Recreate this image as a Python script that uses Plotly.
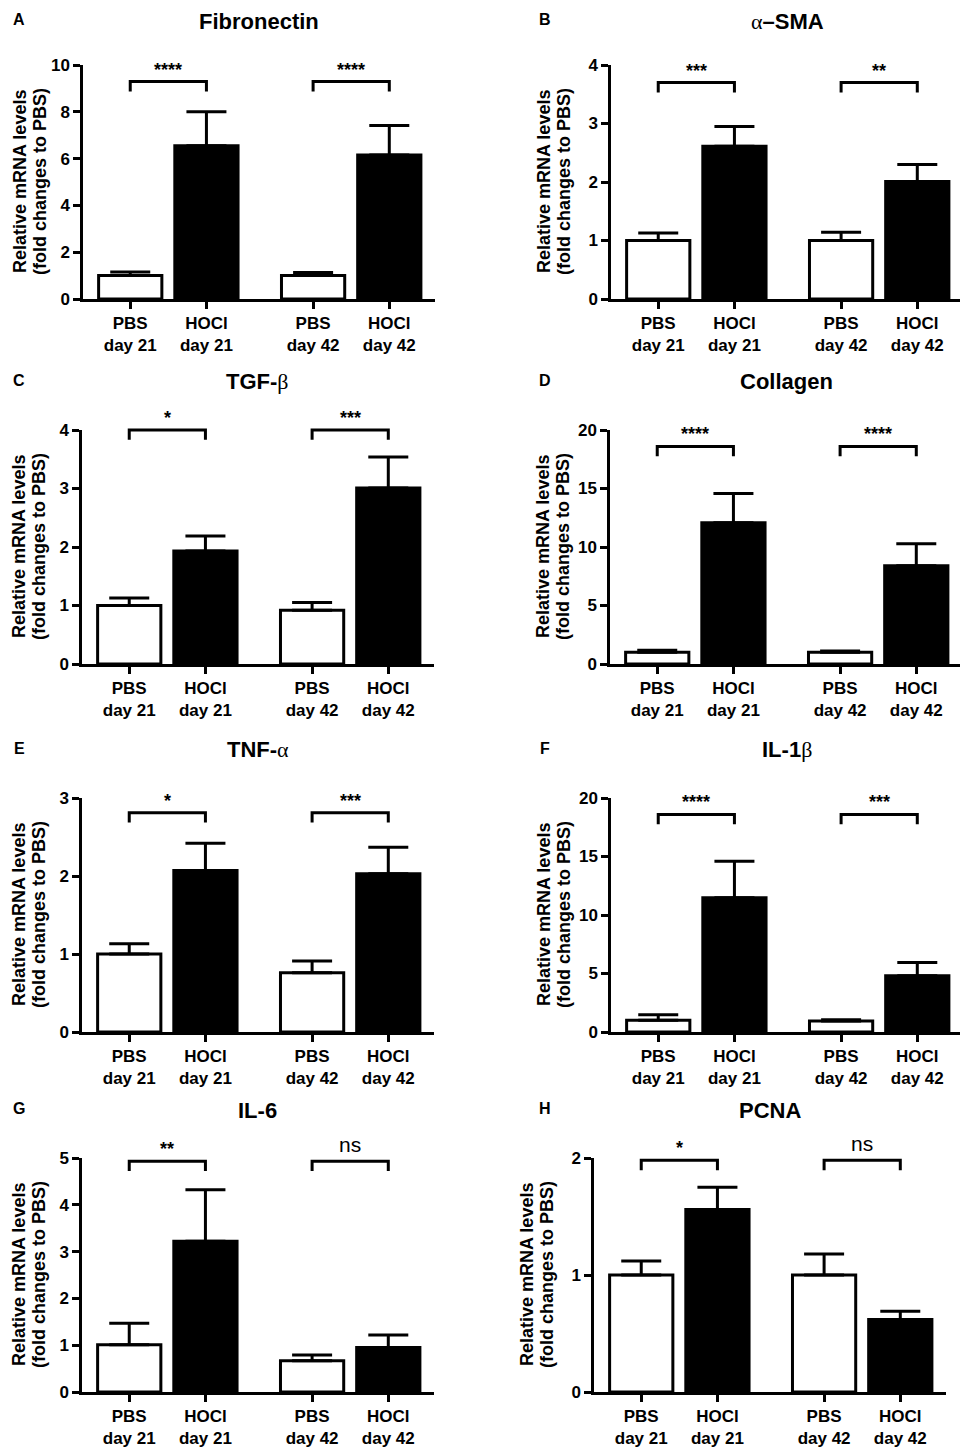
#!/usr/bin/env python3
"""
mRNA levels after HOCl exposure: 8-panel bar chart (A-H), Prism style
"""

import plotly.graph_objects as go

# ---- data ---------------------------------------------------------------
panel_letters = ["A", "B", "C", "D", "E", "F", "G", "H"]
genes = ["Fibronectin", "α–SMA", "TGF-β", "Collagen", "TNF-α", "IL-1β", "IL-6", "PCNA"]
groups = ["PBS<br>day 21", "HOCl<br>day 21", "PBS<br>day 42", "HOCl<br>day 42"]

fibronectin_mean = [1.0, 6.55, 1.0, 6.15]
fibronectin_sem = [0.15, 1.45, 0.13, 1.26]
sma_mean = [1.0, 2.61, 1.0, 2.01]
sma_sem = [0.13, 0.34, 0.14, 0.29]
tgfb_mean = [1.0, 1.93, 0.92, 3.01]
tgfb_sem = [0.13, 0.26, 0.13, 0.53]
collagen_mean = [1.0, 12.08, 1.0, 8.4]
collagen_sem = [0.17, 2.5, 0.11, 1.88]
tnfa_mean = [1.0, 2.07, 0.76, 2.03]
tnfa_sem = [0.13, 0.35, 0.15, 0.34]
il1b_mean = [1.0, 11.47, 0.94, 4.81]
il1b_sem = [0.48, 3.13, 0.11, 1.14]
il6_mean = [1.01, 3.22, 0.67, 0.95]
il6_sem = [0.46, 1.1, 0.12, 0.27]
pcna_mean = [1.0, 1.56, 1.0, 0.62]
pcna_sem = [0.12, 0.19, 0.18, 0.07]

sig_day21 = ["****", "***", "*", "****", "*", "****", "**", "*"]
sig_day42 = ["****", "**", "***", "****", "***", "***", "ns", "ns"]

y_max = [10, 4, 4, 20, 3, 20, 5, 2]
y_step = [2, 1, 1, 5, 1, 5, 1, 1]

means = [fibronectin_mean, sma_mean, tgfb_mean, collagen_mean,
         tnfa_mean, il1b_mean, il6_mean, pcna_mean]
sems = [fibronectin_sem, sma_sem, tgfb_sem, collagen_sem,
        tnfa_sem, il1b_sem, il6_sem, pcna_sem]

# ---- layout (pixels in the 968x1450 window) ------------------------------
W, H = 968, 1450
OFF = 8  # page body margin: the figure starts 8px in from the window corner
axis_left = [83, 611, 82, 610, 82, 611, 82, 594]
row_bottom = [299, 664, 1032, 1392]
plot_w, plot_h = 352, 234
bracket_frac = [0.929, 0.925, 1.0, 0.93, 0.937, 0.93, 0.986, 0.99]
leg = 0.042
# y-title line offsets from the axis (left column squeezed to stay on page)
ytitle_offsets = [(-63, -43), (-67, -47)]

# bar centres: two groups of two, wider gap between groups
positions = [0, 1, 2.4, 3.4]
x_range = [-0.62, 4.0]

FONT = "Liberation Sans, Arial, sans-serif"
BLACK = "#000000"

fig = go.Figure()
annotations = []
shapes = []
layout_axes = {}


def px_x(px):
    return (px - OFF) / W


def px_y(py):
    return 1 - (py - OFF) / H


def greek(text):
    """Render greek letters in a plain serif, like the original figure"""
    out = ""
    for ch in text:
        if ch in "αβ":
            out += f"<span style='font-family:Liberation Serif, serif;font-weight:normal'>{ch}</span>"
        else:
            out += ch
    return out


def paper_note(text, px, py, size, **kw):
    """Annotation placed by window pixel coordinates"""
    d = dict(text=text, xref="paper", yref="paper", x=px_x(px), y=px_y(py),
             xanchor="center", yanchor="middle", showarrow=False,
             font=dict(family=FONT, size=size, color=BLACK))
    d.update(kw)
    return d


for i in range(8):
    n = i + 1
    xa = "x" if n == 1 else f"x{n}"
    ya = "y" if n == 1 else f"y{n}"
    row = i // 2
    x0 = px_x(axis_left[i])
    x1 = px_x(axis_left[i] + plot_w)
    yb = px_y(row_bottom[row])
    yt = px_y(row_bottom[row] - plot_h)

    fig.add_trace(
        go.Bar(
            x=positions,
            y=means[i],
            width=0.83,
            xaxis=xa,
            yaxis=ya,
            marker=dict(
                color=["white", BLACK, "white", BLACK],
                line=dict(color=BLACK, width=3),
            ),
            error_y=dict(
                type="data",
                symmetric=False,
                array=sems[i],
                arrayminus=[0] * 4,
                color=BLACK,
                thickness=3,
                width=20,
            ),
            showlegend=False,
            cliponaxis=False,
        )
    )

    axis_style = dict(
        ticks="outside",
        ticklen=7,
        tickwidth=2.5,
        tickcolor=BLACK,
        showline=True,
        linewidth=2.5,
        linecolor=BLACK,
        showgrid=False,
        zeroline=False,
        automargin=False,
        tickfont=dict(family=FONT, size=17, color=BLACK, weight="bold"),
    )
    layout_axes["xaxis" if n == 1 else f"xaxis{n}"] = dict(
        domain=[x0, x1],
        anchor=ya,
        range=x_range,
        tickvals=positions,
        ticktext=groups,
        **axis_style,
    )
    layout_axes["yaxis" if n == 1 else f"yaxis{n}"] = dict(
        domain=[yb, yt],
        anchor=xa,
        range=[0, y_max[i]],
        dtick=y_step[i],
        tick0=0,
        **axis_style,
    )

    # panel letter and gene title (top row nudged down to stay inside the page)
    col_letter_x = 19 if i % 2 == 0 else 545
    title_y = max(row_bottom[row] - plot_h - 48, 22)
    letter_y = max(title_y - 2, 20)
    annotations.append(paper_note(f"<b>{panel_letters[i]}</b>", col_letter_x, letter_y, 16))
    annotations.append(paper_note(f"<b>{greek(genes[i])}</b>",
                                  axis_left[i] + plot_w / 2, title_y, 22))

    # y axis title, one annotation per line
    mid_y = row_bottom[row] - plot_h / 2
    off1, off2 = ytitle_offsets[i % 2]
    annotations.append(paper_note("<b>Relative mRNA levels</b>", axis_left[i] + off1, mid_y, 18,
                                  textangle=-90))
    annotations.append(paper_note("<b>(fold changes to PBS)</b>", axis_left[i] + off2, mid_y, 18,
                                  textangle=-90))

    # significance brackets
    for pair, label in zip([(0, 1), (2, 3)], [sig_day21[i], sig_day42[i]]):
        xl, xr = positions[pair[0]], positions[pair[1]]
        top = bracket_frac[i]
        shapes.append(dict(
            type="path", xref=xa, yref=f"{ya} domain",
            path=f"M {xl},{top - leg} L {xl},{top} L {xr},{top} L {xr},{top - leg}",
            line=dict(color=BLACK, width=3),
        ))
        is_ns = label == "ns"
        annotations.append(dict(
            text=label if is_ns else f"<b>{label}</b>",
            xref=xa, yref=f"{ya} domain",
            x=(xl + xr) / 2, y=top, xanchor="center", yanchor="bottom",
            yshift=3 if is_ns else 0,
            showarrow=False,
            font=dict(family=FONT, size=21 if is_ns else 18, color=BLACK),
        ))

fig.update_layout(
    width=W,
    height=H,
    margin=dict(l=0, r=0, t=0, b=0, pad=0, autoexpand=False),
    autosize=False,
    plot_bgcolor="white",
    paper_bgcolor="white",
    showlegend=False,
    annotations=annotations,
    shapes=shapes,
    **layout_axes,
)

fig.write_html("out.html")
